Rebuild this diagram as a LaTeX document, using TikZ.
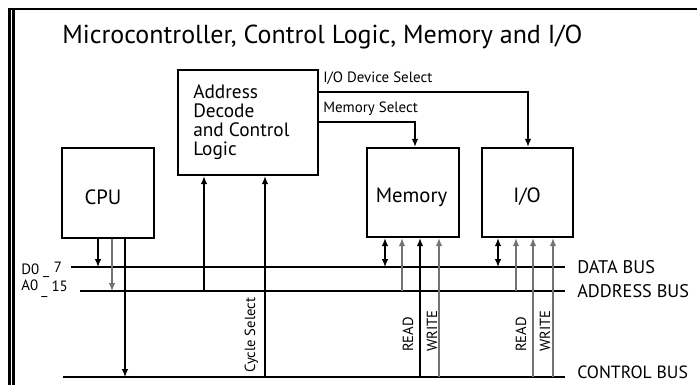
\documentclass[tikz,border=0pt]{standalone}
\usepackage{fontspec}
\setmainfont{PT Sans}
\usetikzlibrary{arrows.meta}
\tikzset{
  box/.style={draw, line width=1.8pt, inner sep=0pt, fill=white},
  boxtxt/.style={inner sep=0pt, font=\fontsize{15.5}{17}\selectfont},
  bus/.style={line width=2.2pt},
  conn/.style={line width=1pt},
  gconn/.style={line width=1pt, draw=black!55},
  arr/.style={-{Latex[length=6pt,width=5pt]}},
  darr/.style={{Latex[length=6pt,width=5pt]}-{Latex[length=6pt,width=5pt]}},
  lbl/.style={inner sep=0pt, anchor=base west, font=\fontsize{11.2}{12}\selectfont},
  buslbl/.style={inner sep=0pt, anchor=west, font=\fontsize{13.7}{15}\selectfont},
  vlbl/.style={inner sep=0pt, rotate=90, anchor=base west, font=\fontsize{11}{12}\selectfont},
}
\begin{document}
\begin{tikzpicture}[x=0.75pt,y=-0.75pt]
\useasboundingbox (0,0) rectangle (697,385);
\fill[white] (0,0) rectangle (697,385);
% frame
\draw[line width=2pt] (9,9) -- (697,9);
\draw[line width=1.6pt] (9.5,8) -- (9.5,385);
\draw[line width=1.6pt] (13.5,9) -- (13.5,385);
% title
\node[inner sep=0pt, anchor=base west, font=\fontsize{19.5}{21}\selectfont] (title) at (62,44) {Microcontroller, Control Logic, Memory and I/O};
% boxes
\node[box, minimum width=105pt, minimum height=78.75pt] (addr) at (248,122.5) {};
\node[inner sep=0pt, align=left, anchor=base west, font=\fontsize{14.5}{14.3}\selectfont] (addrt) at (193,156) {Address\\Decode\\and Control\\Logic};
\node[box, minimum width=69pt, minimum height=67.5pt] (cpu) at (108,193) {};
\node[boxtxt] (cput) at (103,197) {CPU};
\node[box, minimum width=69pt, minimum height=66.75pt] (mem) at (413,192.5) {};
\node[boxtxt] (memt) at (411.5,197) {Memory};
\node[box, minimum width=68.25pt, minimum height=66.75pt] (io) at (527.5,192.5) {};
\node[boxtxt] (iot) at (527,197) {I/O};
% buses
\coordinate (dbL) at (71,267);
\coordinate (dbR) at (565,267);
\coordinate (abL) at (80,291);
\coordinate (abR) at (565,291);
\coordinate (cbL) at (63,377);
\coordinate (cbR) at (565,377);
\draw[bus] (dbL) -- (dbR);
\draw[bus] (abL) -- (abR);
\draw[bus] (cbL) -- (cbR);
\node[buslbl] (dbl) at (577,267) {DATA BUS};
\node[buslbl] (abl) at (577,291) {ADDRESS BUS};
\node[buslbl, font=\fontsize{13.3}{15}\selectfont] (cbl) at (577,372) {CONTROL BUS};
\node[lbl] (d07) at (21,274) {D0\hspace{3pt}\_\hspace{3.5pt}\raisebox{1.5pt}{7}};
\node[lbl] (a015) at (21,290) {A0\hspace{2.5pt}\raisebox{-3pt}{\_}\hspace{3pt}\raisebox{-1pt}{15}};
% CPU connections
\draw[conn, arr] (cpu.south -| 98,0) -- (98,267 |- dbL);
\draw[gconn, arr] (cpu.south -| 112,0) -- (112,291 |- abL);
\draw[conn, arr] (cpu.south -| 125,0) -- (125,377 |- cbL);
% address decode inputs
\draw[conn, arr] (204,291 |- abL) -- (addr.south -| 204,0);
\draw[conn, arr] (265,377 |- cbL) -- (addr.south -| 265,0);
\node[vlbl] (cyc) at (255,373) {Cycle Select};
% select lines
\draw[conn, arr] (addr.east |- 0,92) -- (528,92) -- (io.north -| 528,0);
\node[lbl] (iods) at (323,83) {I/O Device Select};
\draw[conn, arr] (addr.east |- 0,122) -- (415,122) -- (mem.north -| 415,0);
\node[lbl] (mems) at (323,113) {Memory Select};
% memory connections
\draw[conn, darr] (mem.south -| 385,0) -- (385,267 |- dbL);
\draw[gconn, arr] (402,291 |- abL) -- (mem.south -| 402,0);
\draw[conn, arr] (420,377 |- cbL) -- (mem.south -| 420,0);
\draw[gconn, arr] (439,377 |- cbL) -- (mem.south -| 439,0);
\node[vlbl] (mr) at (413,352) {READ};
\node[vlbl] (mw) at (437,352) {WRITE};
% io connections
\draw[conn, darr] (io.south -| 498,0) -- (498,267 |- dbL);
\draw[gconn, arr] (516,291 |- abL) -- (io.south -| 516,0);
\draw[gconn, arr] (533,377 |- cbL) -- (io.south -| 533,0);
\draw[gconn, arr] (553,377 |- cbL) -- (io.south -| 553,0);
\node[vlbl] (ir) at (526,352) {READ};
\node[vlbl] (iw) at (550,352) {WRITE};
\end{tikzpicture}
\end{document}
